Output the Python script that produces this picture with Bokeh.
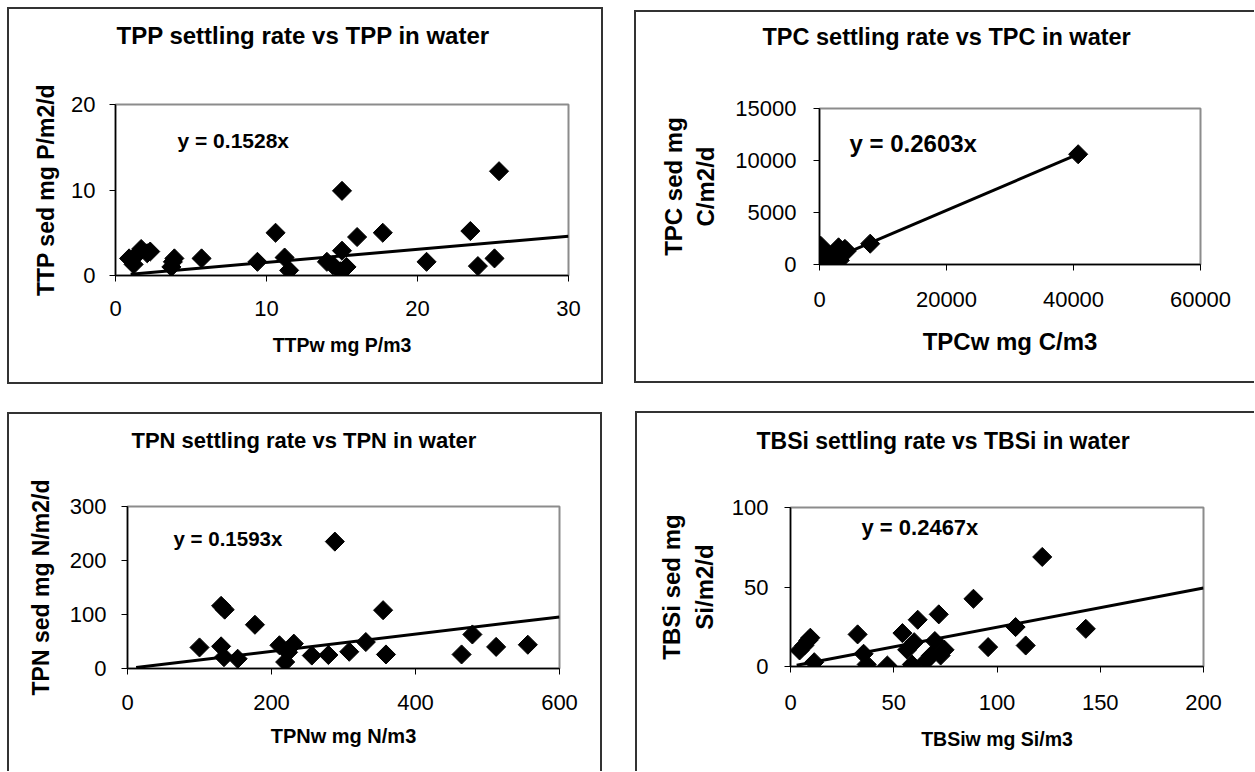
import numpy as np
from bokeh.plotting import figure
from bokeh.models import Range1d, FixedTicker, Label, Title
from bokeh.layouts import row, column
from bokeh.embed import file_html
from bokeh.resources import INLINE

# ---------------- data ----------------
tpp_x = [0.9, 1.2, 1.4, 1.7, 2.1, 2.3, 3.7, 3.8, 3.9, 5.7, 9.4, 10.6, 11.2, 11.5,
         14.0, 14.4, 14.9, 15.0, 15.0, 15.3, 16.0, 17.7, 20.6, 23.5, 24.0, 25.1, 25.4]
tpp_y = [2.0, 1.3, 2.4, 3.1, 2.6, 2.8, 1.0, 1.6, 2.0, 2.0, 1.6, 5.0, 2.1, 0.6,
         1.6, 1.2, 0.5, 2.9, 9.9, 1.0, 4.5, 5.0, 1.6, 5.2, 1.1, 2.0, 12.2]

tpc_x = [40735, 7985, 200, 0, 100, 300, 700, 1000, 2600, 3000, 3200, 4000, 4300, 1500]
tpc_y = [10600, 2000, 1800, 1150, 500, 200, 0, 250, 800, 1650, 400, 1500, 1300, 900]

tpn_x = [100, 130, 130, 135, 134, 153, 177, 211, 219, 223, 231, 256, 279, 288,
         308, 331, 355, 359, 464, 479, 512, 556]
tpn_y = [39, 41, 116, 109, 21, 18, 81, 43, 12, 30, 46, 24, 25, 235,
         31, 49, 108, 26, 26, 63, 40, 44]

tbsi_x = [4.4, 6.7, 8.6, 9.6, 11.5, 32.5, 35.4, 36.9, 46.9, 54.2, 56.5, 58.8, 59.9,
          61.6, 65.6, 68.0, 69.9, 71.8, 72.7, 74.6, 88.6, 95.7, 109.0, 113.9, 121.9, 143.0]
tbsi_y = [10.1, 13.2, 16.4, 18.1, 2.7, 20.2, 8.0, 1.3, 0.6, 21.0, 10.5, 1.3, 15.3,
          29.4, 3.4, 6.9, 16.0, 32.8, 6.9, 10.5, 42.6, 12.2, 24.8, 13.2, 68.9, 23.7]

titles = ["TPP settling rate vs TPP in water", "TPC settling rate vs TPC in water",
          "TPN settling rate vs TPN in water", "TBSi settling rate vs TBSi in water"]
x_labels = ["TTPw mg P/m3", "TPCw mg C/m3", "TPNw mg N/m3", "TBSiw mg Si/m3"]
y_labels = ["TTP sed mg P/m2/d", "TPC sed mg\nC/m2/d",
            "TPN sed mg N/m2/d", "TBSi sed mg\nSi/m2/d"]
slopes = [0.1528, 0.2603, 0.1593, 0.2467]
equations = ["y = 0.1528x", "y = 0.2603x", "y = 0.1593x", "y = 0.2467x"]
trend_start = [1.0, 0.0, 12.0, 3.0]
trend_end = [30.0, 40735.0, 600.0, 200.0]
x_ticks = [[0, 10, 20, 30], [0, 20000, 40000, 60000], [0, 200, 400, 600], [0, 50, 100, 150, 200]]
y_ticks = [[0, 10, 20], [0, 5000, 10000, 15000], [0, 100, 200, 300], [0, 50, 100]]
xs = [tpp_x, tpc_x, tpn_x, tbsi_x]
ys = [tpp_y, tpc_y, tpn_y, tbsi_y]

# ---------------- layout / style ----------------
FONT = "Liberation Sans"
B = "#333333"
layouts = [
    dict(W=596, H=377, L=108, T=97, R=35, Bt=109, margin=(7, 0, 0, 7),
         shadow=f"inset 0 0 0 2px {B}",
         title=("24px", 1, 52), eq=(62, 135, "21px"),
         ylab=("23px", 9), ytick_so=14, xtick_so=19, xlab=("19.5px", 15)),
    dict(W=620, H=373, L=185, T=98, R=54, Bt=119, margin=(10, 0, 0, 31),
         shadow=f"inset 2px 0 0 0 {B}, inset 0 2px 0 0 {B}, inset 0 -2px 0 0 {B}",
         title=("23.5px", -57, 55), eq=(30, 121, "24px"),
         ylab=("24px", 13), ytick_so=17, xtick_so=21, xlab=("24px", 18)),
    dict(W=595, H=359, L=120, T=94, R=43, Bt=103, margin=(28, 0, 0, 7),
         shadow=f"inset 2px 0 0 0 {B}, inset -2px 0 0 0 {B}, inset 0 2px 0 0 {B}",
         title=("22px", 4, 50), eq=(46, 130, "20.5px"),
         ylab=("23px", 13), ytick_so=15, xtick_so=20, xlab=("20px", 12)),
    dict(W=619, H=360, L=155, T=96, R=51, Bt=105, margin=(27, 0, 0, 33),
         shadow=f"inset 2px 0 0 0 {B}, inset 0 2px 0 0 {B}",
         title=("23px", -34, 50), eq=(71, 139, "22px"),
         ylab=("24px", 11), ytick_so=16, xtick_so=22, xlab=("19.5px", 15)),
]

figs = []
for i in range(4):
    c = layouts[i]
    p = figure(width=c["W"], height=c["H"], output_backend="svg", toolbar_location=None,
               x_range=Range1d(x_ticks[i][0], x_ticks[i][-1]),
               y_range=Range1d(y_ticks[i][0], y_ticks[i][-1]),
               min_border_left=c["L"], min_border_top=c["T"],
               min_border_right=c["R"], min_border_bottom=c["Bt"],
               margin=c["margin"], styles={"box-shadow": c["shadow"]})
    p.title = None
    p.border_fill_alpha = 0.0
    p.background_fill_color = "white"
    p.outline_line_color = "#8c8c8c"
    p.outline_line_width = 2
    p.grid.visible = False

    tfs, toff, gap = c["title"]
    # empty spacer title keeps the chart title well above the plot area
    p.add_layout(Title(text=" ", text_font_size="2px", standoff=gap), "above")
    p.add_layout(Title(text=titles[i], align="left", offset=toff, standoff=0,
                       text_font=FONT, text_font_size=tfs, text_font_style="bold",
                       text_color="black"), "above")

    for ax, tk in ((p.xaxis, x_ticks[i]), (p.yaxis, y_ticks[i])):
        ax.ticker = FixedTicker(ticks=tk)
        ax.axis_line_color = "black"
        ax.axis_line_width = 1.5
        ax.major_tick_line_color = "black"
        ax.major_tick_out = 6
        ax.major_tick_in = 0
        ax.minor_tick_out = 0
        ax.minor_tick_in = 0
        ax.major_label_text_font = FONT
        ax.major_label_text_font_size = "22px"
        ax.major_label_text_color = "black"
        ax.axis_label_text_font = FONT
        ax.axis_label_text_font_style = "bold"
        ax.axis_label_text_color = "black"
    p.xaxis.major_label_standoff = c["xtick_so"]
    p.yaxis.major_label_standoff = c["ytick_so"]
    p.xaxis.axis_label = x_labels[i]
    p.xaxis.axis_label_text_font_size = c["xlab"][0]
    p.xaxis.axis_label_standoff = c["xlab"][1]
    p.yaxis.axis_label = y_labels[i]
    p.yaxis.axis_label_text_font_size = c["ylab"][0]
    p.yaxis.axis_label_standoff = c["ylab"][1]

    x0, x1 = trend_start[i], trend_end[i]
    p.line([x0, x1], [slopes[i] * x0, slopes[i] * x1], line_color="black", line_width=3)
    p.scatter(xs[i], ys[i], marker="square", angle=np.pi / 4, size=13.5,
              fill_color="black", line_color="black")

    ex, ey, efs = c["eq"]
    p.add_layout(Label(x=ex, y=ey, x_units="screen", y_units="screen", text=equations[i],
                       text_font=FONT, text_font_size=efs, text_font_style="bold",
                       text_color="black", text_align="left", text_baseline="middle"))
    figs.append(p)

page = column(row(column(figs[0]), column(figs[1])), row(column(figs[2]), column(figs[3])))
open("out.html", "w").write(file_html(page, INLINE))
